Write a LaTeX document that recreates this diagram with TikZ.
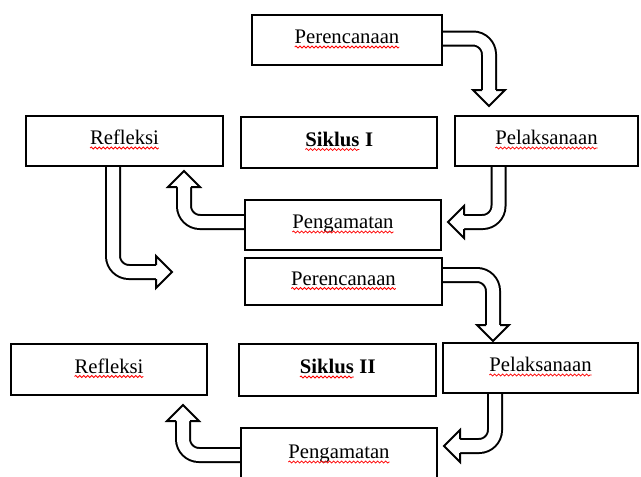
\documentclass[tikz,border=0pt]{standalone}
\usepackage{fontspec}
\setmainfont{Liberation Serif}
\usetikzlibrary{decorations.pathmorphing}

\pgfdeclarelayer{back}
\pgfsetlayers{back,main}

\tikzset{
  box/.style={rectangle, draw, line width=2pt, fill=white, inner sep=0pt,
    text height=13pt, text depth=6pt, font=\fontsize{20.7pt}{24pt}\selectfont},
  shaft/.style={draw, double=white, double distance=12pt, line width=2pt, rounded corners=16pt},
  bhead/.pic={\filldraw[fill=white, line width=2pt, line join=miter] (-7, -16) -- (-16, -16) -- (0, 0) -- (16, -16) -- (7, -16);},
  typoline/.style={red, line width=0.8pt, decorate, decoration={snake, amplitude=1pt, segment length=4pt}},
  typoword/.style={rectangle, inner sep=0pt, outer sep=0pt, draw=none, fill=none,
    minimum width=0pt, minimum height=0pt, text height=, text depth=, anchor=base}
}

% red wavy underline
\newcommand{\typo}[1]{\tikz[baseline=(w.base)]{\node (w) [typoword] at (0pt, 0pt) {#1}; \draw[typoline] ([yshift=-3.5pt]w.base west) -- ([yshift=-3.5pt]w.base east);}}

\begin{document}
\begin{tikzpicture}[x=1pt, y=-1pt]
  \useasboundingbox (0, 0) rectangle (641, 477);
  % Nodes
  \node (plan-1) [box, minimum width=190pt, minimum height=50pt] at (347, 40) {\typo{Perencanaan}};
  \node (reflect-1) [box, minimum width=197pt, minimum height=50pt] at (124.5, 141) {\typo{Refleksi}};
  \node (cycle-1) [box, minimum width=196pt, minimum height=51pt] at (339, 142.5) {\textbf{\typo{Siklus} I}};
  \node (act-1) [box, minimum width=183pt, minimum height=50pt] at (546.5, 141) {\typo{Pelaksanaan}};
  \node (observe-1) [box, minimum width=196pt, minimum height=50pt] at (343, 225) {\typo{Pengamatan}};
  \node (plan-2) [box, minimum width=197pt, minimum height=47pt] at (343.5, 281.5) {\typo{Perencanaan}};
  \node (reflect-2) [box, minimum width=196pt, minimum height=51pt] at (109, 369.5) {\typo{Refleksi}};
  \node (cycle-2) [box, minimum width=197pt, minimum height=52pt] at (337.5, 370) {\textbf{\typo{Siklus} II}};
  \node (act-2) [box, minimum width=195pt, minimum height=50pt] at (540.5, 368) {\typo{Pelaksanaan}};
  \node (observe-2) [box, minimum width=196pt, minimum height=54pt] at (339, 455) {\typo{Pengamatan}};
  % Arrow
  \coordinate (tip-a) at ([xshift=35pt, yshift=9pt]act-1.north west);
  \coordinate (tip-b) at ([xshift=6pt, yshift=3pt]observe-1.east);
  \coordinate (tip-c) at ([xshift=-40pt, yshift=-4pt]reflect-1.south east);
  \coordinate (tip-d) at (172, 272);
  \coordinate (tip-e) at ([xshift=51pt, yshift=1pt]act-2.north west);
  \coordinate (tip-f) at ([xshift=6pt, yshift=-19pt]observe-2.north east);
  \coordinate (tip-g) at ([xshift=-25pt, yshift=-9pt]reflect-2.south east);
  \begin{pgfonlayer}{back}
    \draw[shaft] ([yshift=1.5pt]plan-1.east) -| ([yshift=16pt]tip-a);
    \draw[shaft] ([xshift=44.5pt]act-1.south west) |- ([xshift=16pt]tip-b);
    \draw[shaft] ([yshift=3pt]observe-1.west) -| ([yshift=-16pt]tip-c);
    \draw[shaft] ([xshift=88pt]reflect-1.south west) |- ([xshift=-16pt]tip-d);
    \draw[shaft] ([yshift=6.5pt]plan-2.east) -| ([yshift=16pt]tip-e);
    \draw[shaft] ([xshift=53pt]act-2.south west) |- ([xshift=16pt]tip-f);
    \draw[shaft] (observe-2.west) -| ([yshift=-16pt]tip-g);
    \pic[rotate=0] at (tip-a) {bhead};
    \pic[rotate=-90] at (tip-b) {bhead};
    \pic[rotate=180] at (tip-c) {bhead};
    \pic[rotate=90] at (tip-d) {bhead};
    \pic[rotate=0] at (tip-e) {bhead};
    \pic[rotate=-90] at (tip-f) {bhead};
    \pic[rotate=180] at (tip-g) {bhead};
  \end{pgfonlayer}
\end{tikzpicture}
\end{document}
